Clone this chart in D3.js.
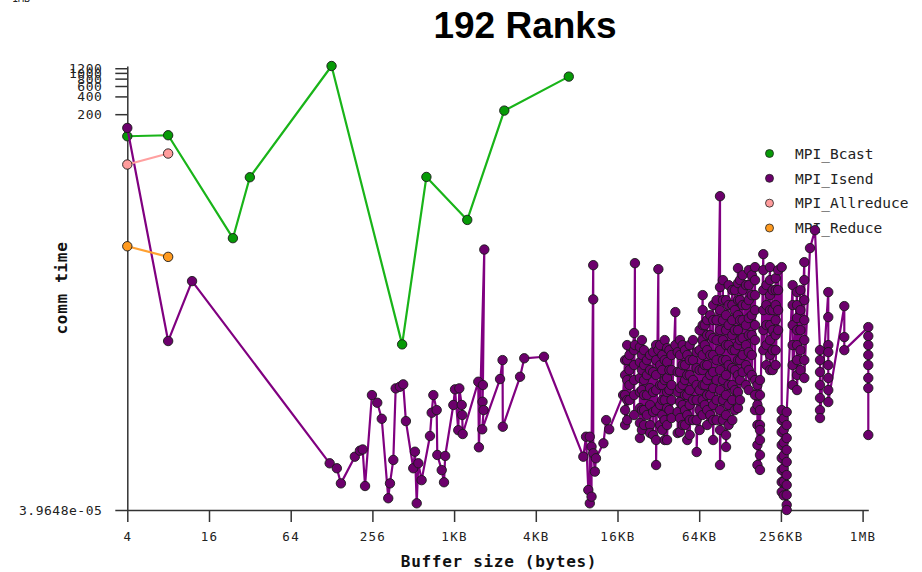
<!DOCTYPE html>
<html><head><meta charset="utf-8">
<script src="https://cdn.jsdelivr.net/npm/d3@7"></script>
<style>body{margin:0;background:#fff} svg{display:block}</style>
</head><body>
<svg id="chart" width="922" height="572"></svg>
<script>
// ---------- data ----------
const bcastSizes = [4, 8, 24, 32, 128, 424, 640, 1280, 2400, 7168];
const bcastTimes = [84.6, 88, 1.59, 17.1, 1309, 0.0253, 17.3, 3.24, 230, 865];

const allreduceSizes = [4, 8];
const allreduceTimes = [28.1, 43.1];

const reduceSizes = [4, 8];
const reduceTimes = [1.16, 0.767];

// MPI_Isend: one size per column, one or more times per column
const isendSizes = [4, 8, 12, 124, 140, 150, 190, 207, 217, 226, 254, 278, 300, 335, 345, 365, 380, 408, 432, 452,
  512, 527, 543, 558, 590, 680, 700, 720, 762, 770, 830, 863, 880, 1011, 1040, 1099, 1119, 1165, 1175, 1185,
  1543, 1560, 1710, 1670, 1659, 1690, 1650, 2233, 2330, 2340, 3136, 3368, 4708,
  9175, 9605, 9984, 10240, 10547, 10854, 11162, 11366, 12902, 13517, 14234, 18022,
  18637, 19300, 20070, 21709, 22016, 23962, 24800, 25700, 27000, 28467, 30000, 31539, 32768, 33800, 35000,
  36500, 38000, 39500, 41000, 43725, 45500, 47309, 49500, 51500, 53500, 55800, 59000, 62771, 66000, 69530,
  72000, 75000, 79000, 83000, 88000, 93286, 98000, 103322, 108000, 114893, 120000, 126566, 131000, 137000,
  145000, 152000, 160000, 168960, 176000, 183808, 194458, 205000, 217907, 228000, 240000, 250000, 265728,
  275000, 289178, 320000, 344576, 365000, 389939, 429466, 467456, 508928, 585728, 768717, 1155072];
const isendTimes = [[117], [0.0288], [0.298], [0.000245], [0.000202], [0.000112], [0.000317], [0.0004], [0.00042], [0.000101],
  [0.0035], [0.0026], [0.00139], [0.0000627], [0.000112], [0.000279], [0.00455], [0.00484], [0.00532], [0.00127],
  [0.000202], [0.000385], [0.0000515], [0.000245], [0.000127], [0.00071], [0.00176], [0.0035], [0.00195], [0.000339],
  [0.000188], [0.000117], [0.000326], [0.00238], [0.00438], [0.00089], [0.00455], [0.00238], [0.00161], [0.000767],
  [0.00589], [0.000457], [1.02], [0.00518], [0.0027], [0.00195], [0.000922], [0.00654], [0.0137], [0.00102],
  [0.00715], [0.0147], [0.0156],
  [0.000317], [0.00069], [0.0000865], [0.0000515, 0.00069], [0.0000667, 0.000468], [0.555, 0.146, 0.000362],
  [0.000177], [0.000298], [0.000534], [0.00132], [0.000922], [0.00351],
  [0.0137, 0.00764, 0.00351, 0.00195, 0.00109],
  [0.0246, 0.0137, 0.00629, 0.00289, 0.00132],
  [0.0167, 0.00929, 0.00518, 0.00289],
  [0.0393, 0.0202, 0.01128, 0.00629, 0.00351, 0.00161],
  [0.6, 0.0246],
  [0.0228, 0.01268, 0.00681, 0.00394, 0.00211, 0.00118, 0.000656],
  [0.0299, 0.0167, 0.00929, 0.00426, 0.00195, 0.000897],
  [0.0202, 0.01128, 0.00629, 0.00351, 0.00195, 0.00109],
  [0.0137, 0.00764, 0.00351, 0.00161],
  [0.0167, 0.00929, 0.0046, 0.00238, 0.00109, 0.000798],
  [0.0187, 0.00859, 0.00394, 0.00181, 0.000738],
  [0.0246, 0.0137, 0.00764, 0.00426, 0.00195, 0.000607, 0.000229],
  [0.475, 0.0202],
  [0.0246, 0.01128, 0.00518, 0.00238, 0.00109],
  [0.0167, 0.00929, 0.00518, 0.00289, 0.00161, 0.000897],
  [0.0299, 0.0137, 0.00629, 0.00289, 0.00132, 0.000607],
  [0.0219, 0.01268, 0.00681, 0.00394, 0.00211, 0.00109, 0.000607],
  [0.0202, 0.00929, 0.00426, 0.00195],
  [0.0167, 0.00929, 0.00518, 0.00289, 0.00143],
  [0.089, 0.0246],
  [0.0187, 0.00859, 0.00394, 0.00181, 0.000798],
  [0.0299, 0.0167, 0.00859, 0.0046, 0.00267, 0.00143, 0.00083],
  [0.0246, 0.01128, 0.00518, 0.00238, 0.00109],
  [0.0202, 0.01128, 0.00629, 0.00351, 0.00195, 0.00109],
  [0.0167, 0.00764, 0.00351, 0.00161, 0.000607],
  [0.0246, 0.0137, 0.00764, 0.00426, 0.00238, 0.00132, 0.000738],
  [0.0299, 0.0137, 0.00629, 0.00289, 0.00132],
  [0.0187, 0.01004, 0.00518, 0.00289, 0.00132, 0.00038],
  [0.0441, 0.0202, 0.00929, 0.00426, 0.00195, 0.000897],
  [0.1726, 0.0962, 0.0536, 0.0299, 0.0167, 0.00929, 0.00518, 0.00289, 0.00161],
  [0.0536, 0.0246, 0.01128, 0.00518, 0.00238],
  [0.0651, 0.0363, 0.0202, 0.01128, 0.00629, 0.00351, 0.00195, 0.00109],
  [0.0791, 0.0363, 0.0167, 0.00764, 0.00351, 0.00161],
  [0.117, 0.0651, 0.0323, 0.0167, 0.00859, 0.0046, 0.00238, 0.00132, 0.000607],
  [0.142, 0.0651, 0.0299, 0.0137, 0.00629, 0.00289, 0.00132],
  [8.17, 0.2357, 0.0962, 0.0441, 0.0202, 0.00929, 0.00426, 0.00195, 0.000897, 0.000229],
  [0.31, 0.142, 0.0651, 0.0299, 0.0137, 0.00629, 0.00289, 0.00132],
  [0.142, 0.0791, 0.0441, 0.0246, 0.0137, 0.00764, 0.00351, 0.00161, 0.000738, 0.000462],
  [0.255, 0.117, 0.0536, 0.0246, 0.01128, 0.00518, 0.00238, 0.00109],
  [0.21, 0.117, 0.0651, 0.0363, 0.0202, 0.01004, 0.00518, 0.00289, 0.00132],
  [0.21, 0.0962, 0.0441, 0.0202, 0.00929, 0.00426, 0.00195],
  [0.494, 0.2754, 0.142, 0.0791, 0.0441, 0.0246, 0.0137, 0.00764, 0.00394, 0.00211],
  [0.31, 0.142, 0.0651, 0.0299, 0.0137, 0.00629, 0.00289],
  [0.376, 0.21, 0.117, 0.0651, 0.0323, 0.0167, 0.00859],
  [0.255, 0.117, 0.0536, 0.0246, 0.01128, 0.00518],
  [0.457, 0.255, 0.142, 0.0705, 0.0363, 0.0187, 0.00929, 0.00426],
  [0.376, 0.1726, 0.0791, 0.0363, 0.0167, 0.00764],
  [0.514, 0.31, 0.1726, 0.0962, 0.0536, 0.0299, 0.00629, 0.00351, 0.00195],
  [0.00518, 0.00238, 0.00109, 0.0005, 0.000229],
  [0.00629, 0.00351, 0.00195, 0.00109, 0.000607, 0.000339, 0.000189, 0.000897],
  [0.852, 0.457, 0.21, 0.0962, 0.0441, 0.0202],
  [0.255, 0.117, 0.0536, 0.0246, 0.01128],
  [0.514, 0.31, 0.1726, 0.0962, 0.0536, 0.0299, 0.0167, 0.00929],
  [0.21, 0.0962, 0.0441, 0.0202, 0.00929],
  [0.3346, 0.21, 0.117, 0.0651, 0.0363, 0.0202, 0.01128],
  [0.457, 0.21, 0.0962, 0.0441],
  [0.514, 0.00195, 0.00132, 0.00083, 0.0005, 0.000301, 0.000189, 0.000118, 0.00008],
  [0.0014, 0.0009, 0.00055, 0.00033, 0.0002, 0.00012, 0.00007],
  [0.0000483, 0.000039648, 0.0000713, 0.000105, 0.000155, 0.000258, 0.000411, 0.000656, 0.00109, 0.00181],
  [0.255, 0.117, 0.0536, 0.0246, 0.01128, 0.00518],
  [0.194, 0.117, 0.0705, 0.0441, 0.0246, 0.0137, 0.00764, 0.00426],
  [0.21, 0.0962, 0.0441, 0.0202, 0.00929],
  [0.624, 0.31, 0.142, 0.0651, 0.0299, 0.0137, 0.00681],
  [1.08],
  [2.17],
  [0.0202, 0.0137, 0.00859, 0.00518, 0.00312, 0.00195, 0.00143],
  [0.194, 0.0732, 0.0246, 0.0187, 0.01128, 0.00681, 0.00426, 0.00267],
  [0.1124, 0.0336, 0.0202],
  [0.0496, 0.0349, 0.0246, 0.0167, 0.01128, 0.00681, 0.0046, 0.000738]];

const seriesNames = ["MPI_Bcast", "MPI_Isend", "MPI_Allreduce", "MPI_Reduce"];
const seriesLineColors = ["#19b419", "#800080", "#ffa0a0", "#ffa030"];
const seriesDotColors = ["#079a07", "#6c006c", "#ff9c9c", "#ff9a1f"];

const xTickValues = [4, 16, 64, 256, 1024, 4096, 16384, 65536, 262144, 1048576];
const xTickLabels = ["4", "16", "64", "256", "1KB", "4KB", "16KB", "64KB", "256KB", "1MB"];
const yTickValues = [3.9648e-05, 200, 400, 600, 800, 1000, 1200];
const yTickLabels = ["3.9648e-05", "200", "400", "600", "800", "1000", "1200"];

// ---------- build tables ----------
const zip = (s, t) => s.map((v, i) => ({size: v, time: t[i]}));
const isendPoints = isendSizes.flatMap((s, i) => isendTimes[i].map(t => ({size: s, time: t})));
const series = [
  zip(bcastSizes, bcastTimes),
  isendPoints,
  zip(allreduceSizes, allreduceTimes),
  zip(reduceSizes, reduceTimes)
];
const allPts = series.flat();

const svg = d3.select("#chart");
const mono = "'DejaVu Sans Mono', 'Liberation Mono', monospace";

const x = d3.scaleLog().base(2).domain(d3.extent(allPts, d => d.size)).range([127.3, 868.3]);
const y = d3.scaleLog().domain(d3.extent(allPts, d => d.time)).range([510, 66]);

// title
svg.append("text").attr("x", 525).attr("y", 38).attr("text-anchor", "middle")
  .style("font-family", "'Liberation Sans', Arial, sans-serif").style("font-weight", "bold")
  .style("font-size", "37px").attr("fill", "#000").text("192 Ranks");
svg.append("text").attr("x", 12).attr("y", 2).style("font-family", mono).style("font-size", "10px")
  .attr("fill", "#222").text("1MB");

// axes
const xAxis = svg.append("g").attr("transform", "translate(0,510)")
  .call(d3.axisBottom(x).tickValues(xTickValues).tickFormat((d, i) => xTickLabels[i]).tickSizeInner(12).tickSizeOuter(0));
const yAxis = svg.append("g").attr("transform", "translate(127.3,0)")
  .call(d3.axisLeft(y).tickValues(yTickValues).tickFormat((d, i) => yTickLabels[i]).tickSizeInner(12).tickSizeOuter(0));
[xAxis, yAxis].forEach(g => {
  g.selectAll("path.domain, line").attr("stroke", "#333").attr("stroke-width", 1.5);
});
xAxis.selectAll("text").attr("y", 0).attr("dy", null).attr("transform", "translate(0,31)")
  .style("font-family", mono).style("font-size", "12.5px").style("letter-spacing", "1.3px")
  .attr("fill", "#222");
yAxis.selectAll("text").attr("x", -25).attr("dy", "0.35em")
  .style("font-family", mono).style("font-size", "13px").style("letter-spacing", "0.5px")
  .attr("fill", "#222");

// axis titles
svg.append("text").attr("x", 499).attr("y", 567).attr("text-anchor", "middle")
  .style("font-family", mono).style("font-weight", "bold").style("font-size", "16px")
  .style("letter-spacing", "0.7px").attr("fill", "#111").text("Buffer size (bytes)");
svg.append("text").attr("transform", "translate(67,288) rotate(-90)").attr("text-anchor", "middle")
  .style("font-family", mono).style("font-weight", "bold").style("font-size", "16px")
  .style("letter-spacing", "0.7px").attr("fill", "#111").text("comm time");

// legend
const legend = svg.append("g");
const legendY = d3.scalePoint().domain(seriesNames).range([153.5, 228]);
seriesNames.forEach((n, i) => {
  legend.append("circle").attr("cx", 769.5).attr("cy", legendY(n)).attr("r", 4)
    .attr("fill", seriesDotColors[i]).attr("stroke", "#222").attr("stroke-width", 0.8);
  legend.append("text").attr("x", 795).attr("y", legendY(n)).attr("dy", "0.36em")
    .style("font-family", mono).style("font-size", "14.5px").attr("fill", "#222").text(n);
});

// series
const line = d3.line().x(d => x(d.size)).y(d => y(d.time));
series.forEach((pts, i) => {
  const g = svg.append("g");
  g.append("path").datum(pts).attr("d", line).attr("fill", "none")
    .attr("stroke", seriesLineColors[i]).attr("stroke-width", 2.2).attr("stroke-linejoin", "round");
  g.selectAll("circle").data(pts).join("circle")
    .attr("cx", d => x(d.size)).attr("cy", d => y(d.time)).attr("r", 4.7)
    .attr("fill", seriesDotColors[i]).attr("stroke", "#1a1a1a").attr("stroke-width", 0.9);
});
</script>
</body></html>
